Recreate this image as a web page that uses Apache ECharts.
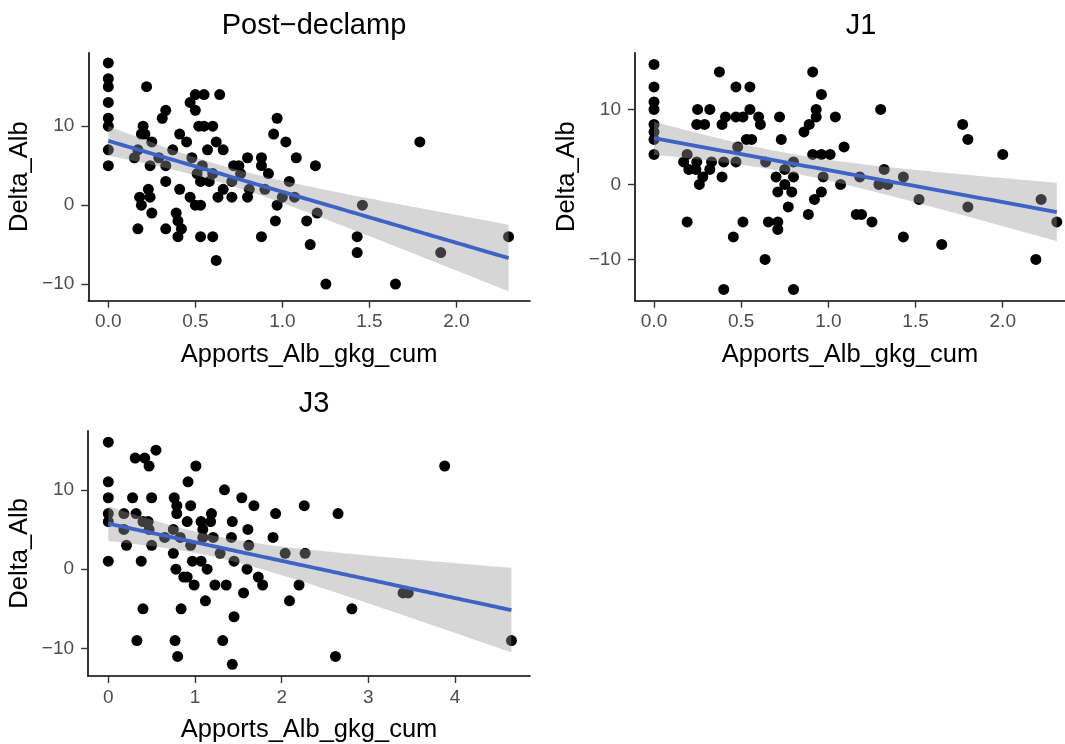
<!DOCTYPE html>
<html>
<head>
<meta charset="utf-8">
<script src="https://cdn.jsdelivr.net/npm/echarts@6/dist/echarts.min.js"></script>
<style>
  html, body { margin: 0; padding: 0; background: #ffffff; }
  #chart { width: 1065px; height: 744px; }
</style>
</head>
<body>
<div id="chart"></div>
<script>
// Panel titles and axis names
const panelTitles = ['Post\u2212declamp', 'J1', 'J3'];
const xName = 'Apports_Alb_gkg_cum';
const yName = 'Delta_Alb';

// Post-declamp: cumulative albumin intake vs change in albumin
const postX = [0,0,0,0,0,0,0,0,
  0.22,0.33,0.31,0.20,0.19,0.21,0.25,0.17,0.15,0.24,0.29,0.33,0.33,
  0.41,0.45,0.37,
  0.23,0.18,0.24,0.19,0.25,0.17,0.33,
  0.41,0.39,0.40,0.42,0.40,
  0.47,0.50,0.55,0.50,0.64,
  0.52,0.55,0.60,0.62,0.57,0.66,
  0.48,0.54,0.51,0.53,0.58,0.60,
  0.47,0.50,0.53,0.53,0.60,0.62,
  0.66,0.63,0.71,0.72,0.75,0.76,0.71,
  0.80,0.81,0.80,0.88,0.88,0.92,0.90,0.88,
  0.97,0.95,1.02,1.08,1.04,1.00,1.07,0.97,0.96,
  1.14,1.16,1.19,1.20,
  1.79,1.46,1.43,1.43,1.25,1.65,1.91,2.30];
const postY = [18,16,15,13,11,10,7,5,
  15,12,11,10,9,9,8,7,6,5,6,5,3,
  9,8,7,
  2,1,1,0,-1,-3,-3,
  2,-1,-2,-3,-4,
  13,14,14,12,14,
  10,10,10,8,7,7,
  6,5,4,3,3,4,
  1,0,0,-4,-4,-7,
  2,1,3,5,5,4,1,
  6,2,1,6,5,4,2,-4,
  11,9,8,6,3,1,1,0,-2,
  -2,-5,5,-1,
  8,0,-4,-6,-10,-10,-6,-4];

// J1
const j1X = [0,0,0,0,0,0,0,0,
  0.375,0.47,0.55,0.25,0.32,0.245,0.29,0.39,0.41,0.47,0.51,0.55,0.60,0.61,0.53,0.56,0.72,0.73,0.48,
  0.19,0.17,0.20,0.245,0.24,0.28,0.26,0.32,0.33,0.40,0.39,0.47,0.64,
  0.70,0.75,0.80,0.80,0.75,0.71,0.79,0.77,
  0.86,0.89,0.93,0.93,0.91,0.96,1.04,
  0.91,0.96,1.01,0.97,0.96,0.92,0.885,1.07,1.09,
  0.19,0.51,0.455,0.656,0.71,0.71,0.637,0.40,0.80,
  1.30,1.18,1.32,1.29,1.34,1.43,1.52,1.16,1.19,1.25,1.43,1.65,1.77,1.80,1.80,2.00,2.22,2.31,2.19];
const j1Y = [16,13,11,10,8,7,6,4,
  15,13,13,10,10,8,8,8,9,9,9,10,9,8,6,6,9,6,5,
  4,3,2,3,2,1,0,2,3,3,1,3,3,
  1,2,3,1,0,-1,-1,-3,
  7,8,9,10,15,12,9,
  4,4,4,1,-1,-2,-4,0,5,
  -5,-5,-7,-5,-5,-6,-10,-14,-14,
  10,1,2,0,0,1,-2,-4,-4,-5,-7,-8,8,6,-3,4,-2,-5,-10];

// J3
const j3X = [0,0,0,0,0,0,
  0.18,0.18,0.21,0.31,0.42,0.47,0.55,0.28,0.32,0.40,0.46,0.50,0.50,0.47,0.38,0.40,0.33,0.65,
  0.76,0.79,0.79,0.75,0.83,0.91,0.75,0.78,0.87,0.91,0.99,0.84,0.77,0.80,
  0.92,1.01,0.95,0.95,0.97,1.07,1.14,1.07,1.09,1.18,1.19,1.09,1.21,1.29,1.23,1.36,1.12,
  1.34,1.54,1.68,1.93,1.43,1.42,1.61,1.62,1.45,1.60,1.73,1.78,1.56,1.45,1.32,1.43,
  1.90,2.04,2.09,2.26,2.20,2.65,2.27,2.81,2.62,3.88,3.40,3.46,4.65];
const j3Y = [16,11,9,7,6,1,
  7,5,3,14,14,13,15,9,7,6,6,9,3,5,1,-5,-9,4,
  9,8,7,5,4,6,2,0,-1,-1,-2,-5,-9,-11,
  11,13,8,3,1,1,0,6,5,6,7,4,4,2,-2,-2,-4,
  10,9,8,7,6,4,5,3,1,0,-1,-2,-3,-6,-9,-12,
  4,2,-4,8,-2,7,2,-5,-11,13,-3,-3,-9];

// Tick positions
const xTicks = [[0, 0.5, 1, 1.5, 2], [0, 0.5, 1, 1.5, 2], [0, 1, 2, 3, 4]];
const yTicks = [[-10, 0, 10], [-10, 0, 10], [-10, 0, 10]];

const panels = [
  { x: postX, y: postY },
  { x: j1X, y: j1Y },
  { x: j3X, y: j3Y }
];

// Plot rectangles and axis ranges of the three panels
const layout = [
  { left: 88.3, top: 52.7, width: 441.7, height: 248, xMin: -0.115, xMax: 2.423, yMin: -12.1, yMax: 19.3, dec: 1, cx: 309 },
  { left: 635, top: 52.7, width: 430, height: 248, xMin: -0.109, xMax: 2.357, yMin: -15.5, yMax: 17.57, dec: 1, cx: 856 },
  { left: 88.1, top: 430.7, width: 441.9, height: 248.6, xMin: -0.233, xMax: 4.864, yMin: -13.47, yMax: 17.45, dec: 0, cx: 309 }
];

// Student t quantile (0.975) via Cornish-Fisher expansion
function tQuant(df) {
  const z = 1.959964;
  return z + (z * z * z + z) / (4 * df)
    + (5 * Math.pow(z, 5) + 16 * z * z * z + 3 * z) / (96 * df * df)
    + (3 * Math.pow(z, 7) + 19 * Math.pow(z, 5) + 17 * z * z * z - 15 * z) / (384 * df * df * df);
}

// Ordinary least squares fit with 95% confidence band for the mean
function lmFit(xs, ys, steps) {
  const n = xs.length;
  const mx = xs.reduce((a, b) => a + b, 0) / n;
  const my = ys.reduce((a, b) => a + b, 0) / n;
  let sxx = 0, sxy = 0;
  for (let i = 0; i < n; i++) { sxx += (xs[i] - mx) ** 2; sxy += (xs[i] - mx) * (ys[i] - my); }
  const b = sxy / sxx, a = my - b * mx;
  let sse = 0;
  for (let i = 0; i < n; i++) sse += (ys[i] - a - b * xs[i]) ** 2;
  const s = Math.sqrt(sse / (n - 2));
  const t = tQuant(n - 2);
  const lo = Math.min(...xs), hi = Math.max(...xs);
  const line = [], lower = [], upper = [];
  for (let k = 0; k <= steps; k++) {
    const x = lo + (hi - lo) * k / steps;
    const yh = a + b * x;
    const se = s * Math.sqrt(1 / n + (x - mx) ** 2 / sxx);
    line.push([x, yh]);
    lower.push([x, yh - t * se]);
    upper.push([x, yh + t * se]);
  }
  return { line, lower, upper };
}

const FONT = 'Liberation Sans, Arial, Helvetica, sans-serif';
const fmtNum = (v, dec) => v.toFixed(dec).replace('-', '\u2212');

const grids = [], xAxes = [], yAxes = [], series = [], titles = [];

panels.forEach((p, i) => {
  const L = layout[i];
  grids.push({ left: L.left, top: L.top, width: L.width, height: L.height, containLabel: false });
  xAxes.push({
    type: 'value', gridIndex: i, min: L.xMin, max: L.xMax,
    name: xName, nameLocation: 'middle', nameGap: 41,
    nameTextStyle: { color: '#000', fontSize: 25.5, fontFamily: FONT },
    axisLine: { show: true, onZero: false, lineStyle: { color: '#000', width: 1.6 } },
    axisTick: { show: true, length: 7, lineStyle: { color: '#333', width: 1.4 }, customValues: xTicks[i] },
    axisLabel: { color: '#4d4d4d', fontSize: 19, fontFamily: FONT, margin: 12, customValues: xTicks[i],
      formatter: v => fmtNum(v, L.dec) },
    splitLine: { show: false }
  });
  yAxes.push({
    type: 'value', gridIndex: i, min: L.yMin, max: L.yMax,
    name: yName, nameLocation: 'middle', nameGap: 55,
    nameTextStyle: { color: '#000', fontSize: 25.5, fontFamily: FONT },
    axisLine: { show: true, onZero: false, lineStyle: { color: '#000', width: 1.6 } },
    axisTick: { show: true, length: 7, lineStyle: { color: '#333', width: 1.4 }, customValues: yTicks[i] },
    axisLabel: { color: '#4d4d4d', fontSize: 19, fontFamily: FONT, margin: 14, customValues: yTicks[i],
      formatter: v => fmtNum(v, 0) },
    splitLine: { show: false }
  });
  titles.push({
    text: panelTitles[i], left: L.cx, top: L.top - 46, textAlign: 'center',
    textStyle: { color: '#000', fontSize: 29, fontWeight: 'normal', fontFamily: FONT }
  });

  const pts = p.x.map((x, k) => [x, p.y[k]]);
  const fit = lmFit(p.x, p.y, 100);
  const bandPts = fit.upper.concat(fit.lower.slice().reverse());

  series.push({
    type: 'scatter', xAxisIndex: i, yAxisIndex: i, data: pts, symbolSize: 11,
    itemStyle: { color: '#000', opacity: 1 }, z: 2, silent: true
  });
  // Confidence ribbon drawn over the points, as a translucent polygon
  series.push({
    type: 'custom', xAxisIndex: i, yAxisIndex: i, data: [0], z: 3, silent: true,
    renderItem: (params, api) => ({
      type: 'polygon',
      shape: { points: bandPts.map(pt => api.coord(pt)) },
      style: { fill: '#999999', opacity: 0.4 }
    })
  });
  series.push({
    type: 'line', xAxisIndex: i, yAxisIndex: i, data: fit.line,
    showSymbol: false, lineStyle: { color: '#3f63c4', width: 3.8 }, z: 4, silent: true
  });
});

const chart = echarts.init(document.getElementById('chart'), null, { renderer: 'canvas' });
chart.setOption({
  backgroundColor: '#ffffff',
  animation: false,
  title: titles,
  grid: grids,
  xAxis: xAxes,
  yAxis: yAxes,
  series: series
});
</script>
</body>
</html>
